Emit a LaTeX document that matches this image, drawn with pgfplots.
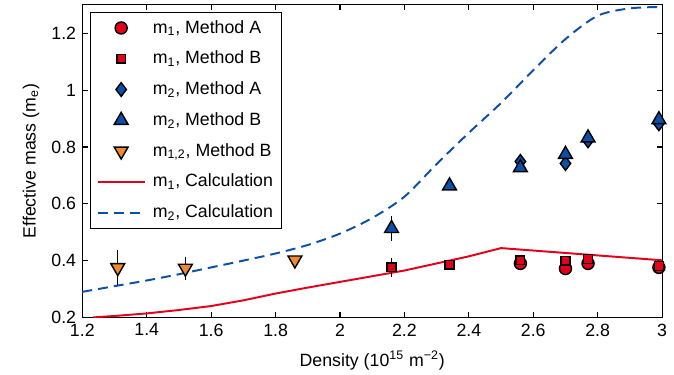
\documentclass[border=0pt]{standalone}
\usepackage{fontspec}
\setmainfont{Liberation Sans}
\usepackage{pgfplots}
\pgfplotsset{compat=1.18}
\definecolor{mred}{RGB}{227,0,27}
\definecolor{mblue}{RGB}{10,80,168}
\definecolor{morange}{RGB}{240,138,48}
\pgfplotsset{myleg/.style={legend image code/.code={\draw[mark repeat=2,mark phase=2,##1] plot coordinates {(0pt,0pt) (13.25pt,0pt) (26.5pt,0pt)};}}}
\begin{document}
\begin{tikzpicture}
\path[use as bounding box] (-46.4pt,-32.4pt) rectangle (333.5pt,178.9pt);
\begin{axis}[
  scale only axis, width=326.8pt, height=176.1pt,
  xmin=1.2, xmax=3, ymin=0.2, ymax=1.3,
  xtick={1.2,1.4,1.6,1.8,2,2.2,2.4,2.6,2.8,3},
  ytick={0.2,0.4,0.6,0.8,1,1.2},
  /pgf/number format/assume math mode=true,
  tick align=inside, major tick length=3pt,
  tick style={black, line width=0.6pt},
  axis line style={black, line width=0.6pt},
  xlabel={Density (10\textsuperscript{15} m\textsuperscript{−2})},
  xlabel style={yshift=-1.5pt},
  ylabel={Effective mass (m\textsubscript{e})},
  legend style={at={(0,1)}, anchor=north west, xshift=4.3pt, yshift=-3.8pt,
    draw=black, line width=0.6pt, row sep=4.6pt, column sep=2.5pt, inner xsep=3.5pt, inner ysep=2.5pt,
    nodes={inner xsep=1.5pt}},
  legend cell align=left,
  error bars/error bar style={black, line width=0.8pt},
  error bars/error mark options={black, mark size=2pt, line width=0.8pt},
]
% calculation curves (drawn first)
\addplot[forget plot, mblue, line width=1.1pt, dash pattern=on 5.6pt off 3.4pt, smooth] coordinates {
(1.2,0.290) (1.3,0.310) (1.4,0.330) (1.5,0.352) (1.6,0.376) (1.7,0.400) (1.8,0.425)
(1.9,0.455) (2.0,0.495) (2.1,0.550) (2.2,0.625) (2.3,0.740) (2.4,0.850) (2.5,0.955)
(2.6,1.070) (2.7,1.180) (2.8,1.262) (2.9,1.288) (3.0,1.293)};
\addplot[forget plot, mred, line width=1.1pt] coordinates {
(1.234,0.200) (1.3,0.205) (1.4,0.214) (1.5,0.226) (1.6,0.240) (1.7,0.260) (1.8,0.284)
(1.9,0.305) (2.0,0.325) (2.1,0.345) (2.2,0.365) (2.3,0.390) (2.4,0.415) (2.5,0.444) (3.0,0.401)};
% m1 method A
\addplot[myleg, only marks, mark=*, mark size=3.4pt, mark options={draw=black, fill=mred, line width=0.8pt}] coordinates {
(2.56,0.390) (2.70,0.372) (2.77,0.390) (2.99,0.376)};
\addlegendentry{m\textsubscript{1}, Method A}
% m1 method B
\addplot[myleg, only marks, mark=square*, mark size=2.45pt, mark options={draw=black, fill=mred, line width=0.8pt},
  error bars/.cd, y dir=both, y explicit] table[x=x, y=y, y error=e] {
x y e
2.16 0.376 0.02
2.34 0.386 0
2.56 0.401 0
2.70 0.400 0
2.77 0.406 0
2.99 0.381 0
};
\addlegendentry{m\textsubscript{1}, Method B}
% m2 method A
\addplot[myleg, only marks, mark=diamond*, mark size=3.9pt, mark options={draw=black, fill=mblue, line width=0.8pt}] coordinates {
(2.56,0.749) (2.70,0.742) (2.77,0.822) (2.99,0.882)};
\addlegendentry{m\textsubscript{2}, Method A}
% m2 method B
\addplot[myleg, only marks, mark=triangle*, mark size=4.5pt, mark options={draw=black, fill=mblue, line width=0.8pt},
  error bars/.cd, y dir=both, y explicit] table[x=x, y=y, y error=e] {
x y e
2.16 0.513 0.03
2.34 0.663 0
2.56 0.727 0
2.70 0.774 0
2.77 0.832 0
2.99 0.896 0
};
\addlegendentry{m\textsubscript{2}, Method B}
% m12 method B
\addplot[myleg, only marks, mark=triangle*, mark size=4.5pt, mark options={rotate=180, draw=black, fill=morange, line width=0.8pt},
  error bars/.cd, y dir=both, y explicit] table[x=x, y=y, y error=e] {
x y e
1.31 0.375 0.05
1.52 0.373 0.028
1.86 0.402 0
};
\addlegendentry{m\textsubscript{1,2}, Method B}
\addlegendimage{myleg, mred, line width=1.1pt}
\addlegendentry{m\textsubscript{1}, Calculation}
\addlegendimage{myleg, mblue, line width=1.1pt, dash pattern=on 5.6pt off 3.4pt}
\addlegendentry{m\textsubscript{2}, Calculation}
\end{axis}
\end{tikzpicture}
\end{document}
